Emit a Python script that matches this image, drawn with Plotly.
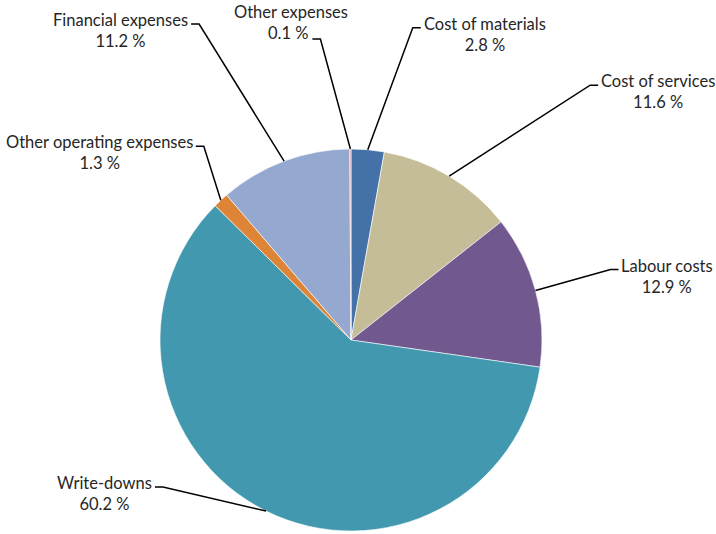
import math
import plotly.graph_objects as go

categories = ["Cost of materials", "Cost of services", "Labour costs", "Write-downs",
              "Other operating expenses", "Financial expenses", "Other expenses"]
values = [2.8, 11.6, 12.9, 60.2, 1.3, 11.2, 0.1]
colors = ["#4472A8", "#C4BD97", "#71588F", "#4298AF", "#DD8436", "#95A9D0", "#D99795"]

W, H = 716, 534
CX, CY, R = 351, 340, 191
FONT_SIZE = 16.5

# leader-line bend offsets from slice edge point (pixels), label side, line attached to
offsets = {
    "Cost of materials": (45, -122, "right", 1),
    "Cost of services": (141, -91, "right", 1),
    "Labour costs": (75, -21, "right", 1),
    "Write-downs": (-103, -24, "left", 1),
    "Other operating expenses": (-17, -54, "left", 1),
    "Financial expenses": (-85, -137, "left", 1),
    "Other expenses": (-30, -110, "left", 2),
}

fig = go.Figure(go.Pie(
    labels=categories, values=values, sort=False, direction="clockwise",
    rotation=0, marker=dict(colors=colors, line=dict(color="white", width=0.6)),
    textinfo="none", hoverinfo="label+value", showlegend=False,
    domain=dict(x=[(CX - R) / W, (CX + R) / W], y=[(H - CY - R) / H, (H - CY + R) / H]),
))

def px(x, y):
    return x / W, 1 - y / H

total = sum(values)
cum = 0
shapes, annotations = [], []
for cat, v in zip(categories, values):
    mid = (cum + v / 2) / total * 2 * math.pi
    cum += v
    ex, ey = CX + R * math.sin(mid), CY - R * math.cos(mid)
    dx, dy, side, row = offsets[cat]
    bx, by = ex + dx, ey + dy
    hx = bx + (8 if side == "right" else -8)
    p0, p1, p2 = px(ex, ey), px(bx, by), px(hx, by)
    shapes.append(dict(type="path", xref="paper", yref="paper",
                       path=f"M {p0[0]},{p0[1]} L {p1[0]},{p1[1]} L {p2[0]},{p2[1]}",
                       line=dict(color="black", width=1.5)))
    font = dict(family="Lato", size=FONT_SIZE, color="#262626")
    pct = f"{v:.1f} %"
    if row == 1:
        tx = hx + (1 if side == "right" else -1)
        t = px(tx, by + 6.5)
        annotations.append(dict(x=t[0], y=t[1], xref="paper", yref="paper",
                                text=f"{cat}<br>{pct}", showarrow=False,
                                xanchor="left" if side == "right" else "right",
                                yanchor="middle", align="center", font=font))
    else:
        tx = hx - 2
        t2 = px(tx, by - 6)
        annotations.append(dict(x=t2[0], y=t2[1], xref="paper", yref="paper",
                                text=pct, showarrow=False, xanchor="right",
                                yanchor="middle", font=font))
        t1 = px(tx - 19.5, by - 27)
        annotations.append(dict(x=t1[0], y=t1[1], xref="paper", yref="paper",
                                text=cat, showarrow=False, xanchor="center",
                                yanchor="middle", font=font))

fig.update_layout(width=W, height=H, margin=dict(l=0, r=0, t=0, b=0),
                  paper_bgcolor="white", plot_bgcolor="white",
                  shapes=shapes, annotations=annotations)
fig.write_html("out.html")
